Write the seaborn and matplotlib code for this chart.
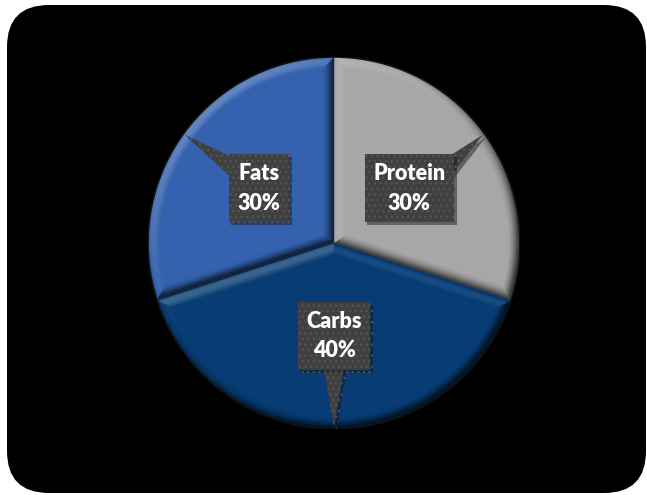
import numpy as np
import matplotlib
matplotlib.use("Agg")
import matplotlib.pyplot as plt
import seaborn as sns
from matplotlib.patches import FancyBboxPatch, Polygon
from matplotlib.collections import PolyCollection
import matplotlib.patheffects as pe
from matplotlib.colors import to_rgb

# ---- data ----
categories = ["Protein", "Carbs", "Fats"]
shares = [30, 40, 30]
slice_colors = ["#A7A7A7", "#073D74", "#3462AE"]

sns.set_theme(style="white")
plt.rcParams['font.family'] = ['Lato', 'DejaVu Sans']
plt.rcParams['hatch.linewidth'] = 0.8

W, H = 647, 495
fig = plt.figure(figsize=(W / 100, H / 100), dpi=100)
fig.patch.set_facecolor("white")

# black rounded panel
panel = FancyBboxPatch((0.07, 0.02), 6.39, 4.88,
                       boxstyle="round,pad=0,rounding_size=0.42",
                       transform=fig.dpi_scale_trans, fc="black", ec="none", zorder=-10)
fig.add_artist(panel)

cx, cy, R = 334, 243, 186
ax = fig.add_axes([(cx - R) / W, (H - cy - R) / H, 2 * R / W, 2 * R / H])
ax.set_zorder(5)

wedges, _ = ax.pie(shares, colors=slice_colors, startangle=90, counterclock=False,
                   radius=1.0, wedgeprops=dict(linewidth=0))
ax.set_xlim(-1, 1)
ax.set_ylim(-1, 1)
ax.set_aspect("equal")
ax.axis("off")
ax.patch.set_alpha(0)

# ---- bevel shading on each wedge ----
light = np.array([-0.45, 0.55, 0.70])
light = light / np.linalg.norm(light)
I0 = light[2]


def outline(t1, t2, d, n=140):
    t1r, t2r = np.radians(t1), np.radians(t2)
    half = (t2r - t1r) / 2
    mid = (t1r + t2r) / 2
    apex_r = d / np.sin(half) if d > 0 else 0.0
    apex = np.array([apex_r * np.cos(mid), apex_r * np.sin(mid)])
    r = 1 - d
    da = np.arcsin(min(d / r, 0.99))
    angs = np.linspace(t1r + da, t2r - da, n)
    arc = np.column_stack([r * np.cos(angs), r * np.sin(angs)])
    pts = np.vstack([apex, apex + (arc[0] - apex) * np.linspace(0, 1, 12)[1:-1, None],
                     arc,
                     arc[-1] + (apex - arc[-1]) * np.linspace(0, 1, 12)[1:-1, None]])
    return pts


bevel = 0.065
steps = 14
for w, col in zip(wedges, slice_colors):
    base = np.array(to_rgb(col))
    t1, t2 = w.theta1, w.theta2
    ds = np.linspace(0, bevel, steps + 1)
    polys, cols = [], []
    for k in range(steps):
        A = outline(t1, t2, ds[k])
        B = outline(t1, t2, ds[k + 1])
        tmid = (k + 0.5) / steps
        phi = np.radians((1 - tmid) ** 1.3 * 75)
        m = len(A)
        for i in range(m):
            j = (i + 1) % m
            seg = A[j] - A[i]
            nrm = np.array([seg[1], -seg[0]])
            ln = np.linalg.norm(nrm)
            if ln == 0:
                continue
            nrm = nrm / ln
            cen = (A[i] + A[j]) / 2
            if np.dot(nrm, cen - A.mean(axis=0)) < 0:
                nrm = -nrm
            n3 = np.array([np.sin(phi) * nrm[0], np.sin(phi) * nrm[1], np.cos(phi)])
            I = max(0.0, np.dot(n3, light)) / I0
            I = 0.35 + 0.65 * I
            if I <= 1:
                c = base * I
            else:
                c = base + (1 - base) * min(1, (I - 1) * 0.9)
            polys.append([A[i], A[j], B[j], B[i]])
            cols.append(np.clip(c, 0, 1))
    pc = PolyCollection(polys, facecolors=cols, edgecolors=cols, linewidths=0.3, zorder=2)
    ax.add_collection(pc)
    inner = outline(t1, t2, bevel)
    ax.add_patch(Polygon(inner, closed=True, fc=col, ec="none", zorder=3))

# thin dark outer rim
ax.add_patch(plt.Circle((0, 0), 1.0, fill=False, ec="#111111", lw=1.2, zorder=4))

# ---- callout labels ----
box_fc = "#404040"
texts = []
tips = []
for w, cat, val in zip(wedges, categories, shares):
    mid = np.radians((w.theta1 + w.theta2) / 2)
    lx, ly = 0.5 * np.cos(mid), 0.5 * np.sin(mid)
    tips.append((0.99 * np.cos(mid), 0.99 * np.sin(mid)))
    t = ax.text(lx, ly, f"{cat}\n{val}%", ha="center", va="center", color="white",
                fontsize=15.5, fontweight="heavy", linespacing=1.5, zorder=10,
                bbox=dict(boxstyle="square,pad=0.4", fc=box_fc, ec="#575757", lw=0,
                          hatch="..."))
    texts.append(t)

fig.canvas.draw()
inv = ax.transData.inverted()
px = 1.0 / R  # data units per pixel
for t, tip in zip(texts, tips):
    bb = t.get_bbox_patch().get_window_extent()
    (x0, y0), (x1, y1) = inv.transform([[bb.x0, bb.y0], [bb.x1, bb.y1]])
    c = np.array([(x0 + x1) / 2, (y0 + y1) / 2])
    p = np.array(tip)
    v = p - c
    sx = ((x1 if v[0] > 0 else x0) - c[0]) / v[0] if v[0] != 0 else np.inf
    sy = ((y1 if v[1] > 0 else y0) - c[1]) / v[1] if v[1] != 0 else np.inf
    hw = 10 * px
    if sx < sy:
        ex = x1 if v[0] > 0 else x0
        ey = c[1] + v[1] * sx
        ey = np.clip(ey, y0 + hw, y1 - hw)
        inset = (-1 if v[0] > 0 else 1) * 2 * px
        base_pts2 = [(ex + inset, ey - hw), (ex + inset, ey + hw)]
    else:
        ey = y1 if v[1] > 0 else y0
        ex = c[0] + v[0] * sy
        ex = np.clip(ex, x0 + hw, x1 - hw)
        inset = (-1 if v[1] > 0 else 1) * 2 * px
        base_pts2 = [(ex - hw, ey + inset), (ex + hw, ey + inset)]
    tri = Polygon([base_pts2[0], tuple(p), base_pts2[1]], closed=True, fc=box_fc,
                  ec="#575757", lw=0, hatch="...", zorder=9)
    tri.set_path_effects([pe.SimplePatchShadow(offset=(2, -2), alpha=0.45), pe.Normal()])
    ax.add_patch(tri)
    t.get_bbox_patch().set_path_effects([pe.SimplePatchShadow(offset=(2, -2), alpha=0.45),
                                         pe.Normal()])

fig.savefig("out.png", dpi=100, facecolor="white")
